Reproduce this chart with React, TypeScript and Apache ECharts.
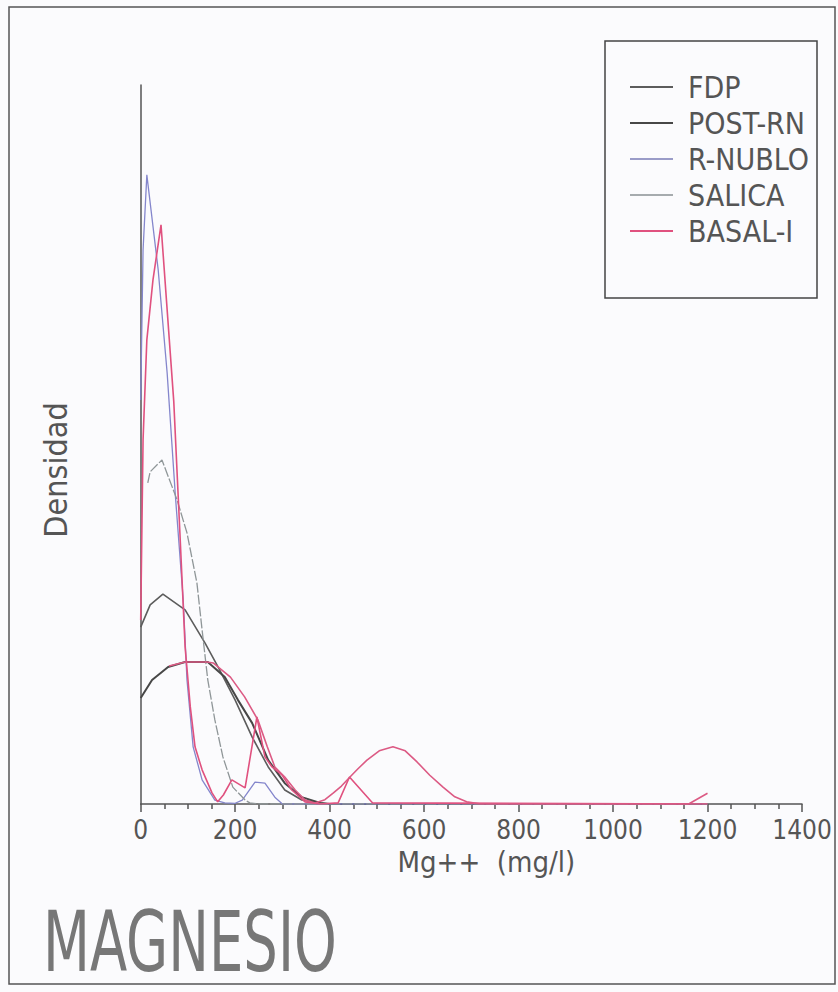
import React, { useEffect, useRef } from "react";
import * as echarts from "echarts";

const seriesNames = ["FDP", "POST-RN", "R-NUBLO", "SALICA", "BASAL-I"];
const xTicks = [0, 200, 400, 600, 800, 1000, 1200, 1400];

const fdpX = [0, 20, 47, 94, 136, 164, 200, 236, 270, 305, 341, 380, 400, 1200];
const fdpY = [4.92, 5.54, 5.84, 5.4, 4.48, 3.81, 2.89, 1.86, 1.03, 0.39, 0.11, 0.03, 0, 0];

const postX = [0, 24, 58, 94, 142, 178, 206, 236, 270, 305, 341, 380, 400, 1200];
const postY = [2.95, 3.45, 3.81, 3.95, 3.95, 3.53, 2.89, 2.25, 1.22, 0.58, 0.19, 0.03, 0, 0];

const rnubloX = [0, 5, 13, 37, 56, 73, 90, 98, 111, 130, 157, 178, 200, 215, 242, 263, 284, 300, 1200];
const rnubloY = [11.24, 15.41, 17.5, 14.86, 11.99, 8.65, 5.68, 3.45, 1.59, 0.67, 0.11, 0.03, 0.02, 0.11, 0.61, 0.58, 0.19, 0, 0];

const salicaX = [15, 20, 45, 77, 98, 119, 130, 142, 157, 174, 195, 221, 231, 250, 1200];
const salicaY = [8.93, 9.24, 9.57, 8.46, 7.54, 6.15, 4.84, 3.45, 2.34, 1.31, 0.47, 0.11, 0.03, 0, 0];

const basalX = [0, 5, 13, 26, 43, 70, 83, 94, 105, 115, 130, 151, 163, 175, 193, 221, 246, 263, 278, 299, 320, 348, 380, 418, 442, 491, 1200];
const basalY = [5.12, 10.13, 12.91, 14.58, 16.11, 11.2, 7.54, 4.37, 2.7, 1.59, 0.95, 0.31, 0.06, 0.25, 0.67, 0.45, 2.42, 1.31, 1.03, 0.81, 0.39, 0.06, 0, 0.03, 0.75, 0.03, 0];

const basal2X = [60, 94, 140, 154, 190, 220, 248, 268, 284, 305, 327, 348, 369, 390, 408, 425, 443, 460, 479, 505, 534, 560, 585, 612, 640, 665, 690, 720, 1160, 1200];
const basal2Y = [3.84, 3.95, 3.95, 3.92, 3.53, 2.98, 2.34, 1.59, 1.03, 0.75, 0.39, 0.11, 0.03, 0.12, 0.31, 0.5, 0.75, 0.98, 1.22, 1.48, 1.59, 1.48, 1.17, 0.8, 0.47, 0.2, 0.06, 0, 0, 0.3];

const FONT = "'DejaVu Sans Condensed', 'Liberation Sans Narrow', 'Liberation Sans', sans-serif";
const INK = "#555";

const pairs = (xs: number[], ys: number[]) => xs.map((x, i) => [x, ys[i]]);

export default function App() {
  const ref = useRef<HTMLDivElement>(null);
  useEffect(() => {
    document.body.style.margin = "0";
    if (!ref.current) return;
    const chart = echarts.init(ref.current, null, { renderer: "svg" });
    const lineBase = { type: "line", symbol: "none", smooth: false, z: 3 };
    chart.setOption({
      animation: false,
      backgroundColor: "#fbfbfd",
      grid: { left: 140.7, right: 36, top: 85, bottom: 188 },
      xAxis: {
        type: "value",
        min: 0,
        max: 1400,
        interval: 200,
        name: "Mg++  (mg/l)",
        nameLocation: "middle",
        nameGap: 43,
        nameMoveOverlap: false,
        nameTextStyle: { fontFamily: FONT, fontSize: 29, color: INK, padding: [0, 0, 0, 30] },
        axisLine: { show: true, lineStyle: { color: INK, width: 1.5 } },
        axisTick: { show: true, length: 8, lineStyle: { color: INK, width: 1.5 } },
        minorTick: { show: true, splitNumber: 4, length: 5, lineStyle: { color: INK, width: 1.5 } },
        axisLabel: {
          fontFamily: FONT,
          fontSize: 26,
          color: INK,
          margin: 13,
          formatter: (v: number) => (xTicks.includes(v) ? String(v) : ""),
        },
        splitLine: { show: false },
      },
      yAxis: {
        type: "value",
        min: 0,
        max: 20,
        axisLine: { show: true, lineStyle: { color: INK, width: 1.5 } },
        axisTick: { show: false },
        axisLabel: { show: false },
        splitLine: { show: false },
      },
      legend: {
        orient: "vertical",
        left: 625,
        top: 67,
        icon: "rect",
        itemWidth: 43,
        itemHeight: 2,
        itemGap: 6,
        data: seriesNames,
        textStyle: { fontFamily: FONT, fontSize: 30, lineHeight: 30, color: INK, padding: [0, 0, 0, 10] },
      },
      graphic: [
        {
          type: "rect",
          shape: { x: 9, y: 7, width: 826, height: 977 },
          style: { fill: "none", stroke: INK, lineWidth: 1.5 },
          silent: true,
        },
        {
          type: "rect",
          shape: { x: 605, y: 41, width: 212, height: 257 },
          style: { fill: "none", stroke: "#444", lineWidth: 1.5 },
          silent: true,
        },
        {
          type: "text",
          x: 56,
          y: 470,
          rotation: Math.PI / 2,
          style: { text: "Densidad", fontFamily: FONT, fontSize: 32, fill: INK, align: "center", verticalAlign: "middle" },
        },
        {
          type: "text",
          x: 43,
          y: 942,
          scaleX: 0.72,
          style: { text: "MAGNESIO", fontFamily: FONT, fontSize: 84, fill: "#777", align: "left", verticalAlign: "middle" },
        },
      ],
      series: [
        { ...lineBase, name: "FDP", data: pairs(fdpX, fdpY), lineStyle: { color: "#5c5c5c", width: 1.6 }, itemStyle: { color: "#5c5c5c" } },
        { ...lineBase, name: "POST-RN", data: pairs(postX, postY), lineStyle: { color: "#474747", width: 2 }, itemStyle: { color: "#474747" } },
        { ...lineBase, name: "R-NUBLO", data: pairs(rnubloX, rnubloY), lineStyle: { color: "#8486cc", width: 1.3 }, itemStyle: { color: "#9a9cc8" } },
        { ...lineBase, name: "SALICA", data: pairs(salicaX, salicaY), lineStyle: { color: "#8f9698", width: 1.3, type: [10, 2] }, itemStyle: { color: "#a6abae" } },
        { ...lineBase, name: "BASAL-I", data: pairs(basalX, basalY), lineStyle: { color: "#e0517f", width: 1.6 }, itemStyle: { color: "#e0517f" } },
        { ...lineBase, name: "BASAL-I", data: pairs(basal2X, basal2Y), lineStyle: { color: "#dc5a84", width: 1.6 }, itemStyle: { color: "#dc5a84" } },
      ],
    });
    return () => chart.dispose();
  }, []);
  return <div ref={ref} style={{ width: 838, height: 992 }} />;
}
